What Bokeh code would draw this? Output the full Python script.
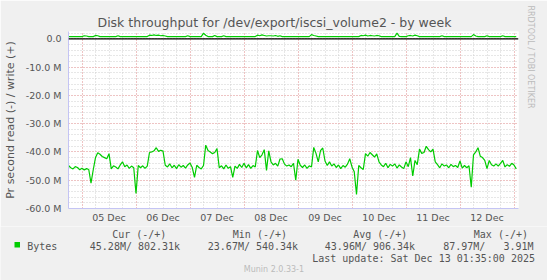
import pandas as pd
from bokeh.plotting import figure
from bokeh.layouts import column
from bokeh.models import Range1d, FixedTicker, Label, Span, ColumnDataSource, Title, BoxAnnotation
from bokeh.embed import file_html
from bokeh.resources import INLINE

# ---------------- data (MB/s, hourly samples from 2025-12-04 18:00) ----------------
read_M = [
    # Dec 4 18-23
    -44.8, -45.6, -46.0, -45.2, -45.5, -46.3,
    # Dec 5
    -45.8, -46.4, -45.9, -46.2, -51.0, -46.3, -42.0, -40.3, -40.8, -41.6, -42.0, -42.4,
    -40.6, -46.0, -44.9, -45.3, -46.0, -44.6, -43.5, -45.2, -44.6, -45.8, -45.0, -45.6,
    # Dec 6
    -54.7, -44.8, -45.6, -44.9, -45.8, -45.0, -40.2, -40.0, -39.6, -38.5, -39.8, -39.4,
    -39.7, -44.7, -45.3, -44.2, -45.6, -44.7, -45.9, -44.5, -45.4, -44.8, -45.7, -44.6,
    # Dec 7
    -43.9, -45.5, -49.0, -44.7, -45.5, -46.0, -44.8, -37.6, -39.5, -40.0, -40.6, -40.2,
    -38.8, -45.6, -44.9, -46.0, -44.6, -45.8, -45.2, -49.0, -45.0, -45.8, -44.4, -45.5,
    # Dec 8
    -44.0, -45.6, -44.5, -45.8, -44.8, -45.3, -39.5, -42.0, -41.0, -39.2, -46.5, -39.6,
    -43.5, -44.6, -44.0, -45.0, -42.5, -42.4, -44.3, -45.0, -44.6, -45.2, -44.0, -50.0,
    # Dec 9
    -42.6, -44.7, -45.5, -44.6, -45.8, -44.9, -45.3, -38.4, -40.5, -43.5, -39.5, -38.6,
    -43.2, -44.8, -43.5, -45.0, -44.2, -45.5, -44.6, -45.9, -44.8, -45.4, -44.3, -42.4,
    # Dec 10
    -45.3, -47.0, -55.0, -44.8, -45.6, -46.2, -40.6, -41.5, -40.2, -41.0, -41.8, -40.7,
    -43.5, -44.6, -45.2, -44.0, -45.6, -44.4, -45.0, -44.2, -45.7, -44.6, -45.3, -45.9,
    # Dec 11
    -43.5, -45.2, -42.0, -48.5, -43.0, -44.5, -39.0, -40.5, -40.2, -38.0, -39.2, -40.0,
    -39.0, -43.5, -44.5, -45.6, -44.2, -45.0, -44.6, -45.6, -44.4, -45.2, -44.8, -45.5,
    # Dec 12
    -43.2, -45.7, -44.8, -45.6, -44.9, -52.5, -41.0, -40.0, -38.5, -41.5, -42.0, -43.0,
    -45.9, -43.0, -44.5, -45.0, -44.2, -45.0, -44.0, -43.0, -45.3, -44.5, -45.1, -44.0,
    # Dec 13 00-01
    -44.6, -46.0,
]

write_M = [
    0.8, 0.8, 0.8, 0.8, 0.8, 0.8,
    0.8, 1.1, 1.0, 0.8, 0.8, 0.8, 1.2, 1.1, 0.8, 0.8, 0.8, 0.8,
    0.8, 0.8, 0.8, 0.8, 1.1, 0.8, 0.8, 0.8, 0.8, 0.8, 0.8, 0.8,
    0.8, 0.8, 0.8, 0.8, 0.8, 0.8, 1.3, 1.2, 1.4, 1.2, 1.3, 1.1,
    1.2, 1.0, 0.8, 0.8, 0.8, 0.8, 0.8, 0.8, 0.8, 0.8, 0.8, 1.1,
    0.8, 0.8, 0.8, 0.8, 0.8, 0.8, 2.0, 1.3, 0.8, 0.8, 0.8, 1.2,
    0.8, 0.8, 0.8, 1.1, 0.8, 0.8, 0.8, 0.8, 0.8, 0.8, 0.8, 0.8,
    0.8, 0.8, 0.8, 0.8, 0.8, 0.8, 1.3, 1.1, 1.4, 1.2, 1.0, 1.1,
    1.1, 1.0, 1.2, 0.9, 1.1, 0.8, 0.8, 0.8, 0.8, 0.8, 0.8, 0.8,
    0.8, 0.8, 0.8, 0.8, 0.8, 0.8, 1.5, 1.2, 1.0, 0.8, 0.8, 0.8,
    0.8, 0.8, 0.8, 0.8, 0.8, 0.8, 0.8, 0.8, 0.8, 0.8, 0.8, 0.8,
    0.8, 0.8, 0.8, 0.8, 1.2, 1.1, 1.3, 1.0, 1.2, 1.1, 1.0, 1.2,
    1.1, 0.8, 0.8, 0.8, 0.8, 0.8, 0.8, 0.8, 2.0, 0.9, 0.8, 0.8,
    0.8, 1.1, 1.2, 1.0, 1.3, 1.1, 0.8, 0.8, 0.8, 0.8, 0.8, 0.8,
    0.8, 0.8, 0.8, 0.8, 1.1, 0.8, 0.8, 0.8, 0.8, 0.8, 0.8, 0.8,
    0.8, 0.8, 0.8, 0.8, 0.8, 0.8, 1.5, 1.0, 0.8, 0.8, 0.8, 0.8,
    1.1, 0.8, 0.8, 0.8, 0.8, 0.8, 0.8, 1.1, 0.8, 0.8, 0.8, 0.8,
    0.8, 0.8,
]

series_start = "2025-12-04 18:00"
view_start = "2025-12-04 18:00"
view_end = "2025-12-13 02:00"

day_labels = ["05 Dec", "06 Dec", "07 Dec", "08 Dec", "09 Dec", "10 Dec", "11 Dec", "12 Dec"]
y_ticks_M = [0, -10, -20, -30, -40, -50, -60]
y_tick_labels = ["0.0", "-10.0 M", "-20.0 M", "-30.0 M", "-40.0 M", "-50.0 M", "-60.0 M"]

legend_headers = ["Cur (-/+)", "Min (-/+)", "Avg (-/+)", "Max (-/+)"]
legend_values = ["45.28M/\u00a0802.31k", "23.67M/\u00a0540.34k", "43.96M/\u00a0906.34k",
                 "87.97M/\u00a0\u00a0\u00a03.91M"]

# ---------------- main chart ----------------
W = 547
H_MAIN = 226
H_LEG = 280 - H_MAIN
FL, FR, FT, FB = 67, 518, 31, 208

GREY = "#555555"
AXIS_C = "#C4C4F4"
GREEN = "#00CC00"
BG = "#F0F0F0"

times = pd.date_range(series_start, periods=len(read_M), freq="h")
src = ColumnDataSource(dict(t=times,
                            read=[v * 1e6 for v in read_M],
                            write=[v * 1e6 for v in write_M]))

p = figure(width=W, height=H_MAIN, output_backend="svg", toolbar_location=None,
           x_axis_type="datetime",
           x_range=Range1d(pd.Timestamp(view_start), pd.Timestamp(view_end)),
           y_range=Range1d(-60e6, 2.6e6),
           min_border_left=FL, min_border_right=W - FR,
           min_border_top=FT, min_border_bottom=H_MAIN - FB)
p.border_fill_color = BG
p.background_fill_color = "white"
p.outline_line_color = None

p.title.text = "Disk throughput for /dev/export/iscsi_volume2 - by week"
p.title.align = "left"
p.title.offset = 29
p.title.standoff = 4
p.title.vertical_align = "bottom"
p.title.text_font = "DejaVu Sans"
p.title.text_font_size = "12.5px"
p.title.text_font_style = "normal"
p.title.text_color = GREY

p.add_layout(Title(text="RRDTOOL / TOBI OETIKER", align="left", offset=-26, standoff=14,
                   text_font="DejaVu Sans", text_font_size="8px", text_font_style="normal",
                   text_color="#BBBBBB"), "right")

# y axis
yt = [v * 1e6 for v in y_ticks_M]
p.yaxis.ticker = FixedTicker(ticks=yt)
p.yaxis.major_label_overrides = {float(t): l for t, l in zip(yt, y_tick_labels)}
p.yaxis.major_label_text_font = "DejaVu Sans"
p.yaxis.major_label_text_font_size = "9.5px"
p.yaxis.major_label_text_color = GREY
p.yaxis.major_tick_out = 0
p.yaxis.major_tick_in = 0
p.yaxis.minor_tick_out = 0
p.yaxis.minor_tick_in = 0
p.yaxis.major_label_standoff = 7
p.yaxis.axis_line_color = AXIS_C
p.yaxis.axis_label = "Pr second read (-) / write (+)"
p.yaxis.axis_label_text_font = "DejaVu Sans"
p.yaxis.axis_label_text_font_size = "11px"
p.yaxis.axis_label_text_font_style = "normal"
p.yaxis.axis_label_text_color = GREY
p.yaxis.axis_label_standoff = 6

# x axis (labels at noon)
noon0 = pd.Timestamp("2025-12-05 12:00")
xt = [(noon0 + pd.Timedelta(days=i)).value / 1e6 for i in range(len(day_labels))]
p.xaxis.ticker = FixedTicker(ticks=xt)
p.xaxis.major_label_overrides = {float(t): l for t, l in zip(xt, day_labels)}
p.xaxis.major_label_text_font = "DejaVu Sans"
p.xaxis.major_label_text_font_size = "9.5px"
p.xaxis.major_label_text_color = GREY
p.xaxis.major_tick_out = 0
p.xaxis.major_tick_in = 0
p.xaxis.minor_tick_out = 0
p.xaxis.minor_tick_in = 0
p.xaxis.major_label_standoff = 3
p.xaxis.axis_line_color = AXIS_C

# grids
ymin = [v * 1e6 for v in range(-60, 3, 2)]
p.ygrid.ticker = FixedTicker(ticks=yt, minor_ticks=ymin)
mid0 = pd.Timestamp("2025-12-05 00:00")
xmaj = [(mid0 + pd.Timedelta(days=i)).value / 1e6 for i in range(9)]
xmin = [(pd.Timestamp(view_start) + pd.Timedelta(hours=6 * i)).value / 1e6 for i in range(34)]
p.xgrid.ticker = FixedTicker(ticks=xmaj, minor_ticks=xmin)
for g in (p.xgrid, p.ygrid):
    g.grid_line_color = "#F4A0A0"
    g.grid_line_dash = "1 2"
    g.grid_line_width = 1
    g.minor_grid_line_color = "#CFCFCF"
    g.minor_grid_line_dash = "1 2"
    g.minor_grid_line_width = 1

p.add_layout(Span(location=0, dimension="width", line_color="black", line_width=1.3))

p.line("t", "read", source=src, line_color=GREEN, line_width=1.2)
p.line("t", "write", source=src, line_color=GREEN, line_width=1.2)

# ---------------- legend strip (pixel-coordinate frame) ----------------
lg = figure(width=W, height=H_LEG, output_backend="svg", toolbar_location=None,
            x_range=Range1d(0, W), y_range=Range1d(H_LEG, 0),
            x_axis_location=None, y_axis_location=None,
            min_border=0, min_border_left=0, min_border_right=0,
            min_border_top=0, min_border_bottom=0)
lg.border_fill_color = BG
lg.background_fill_color = BG
lg.outline_line_color = None
lg.grid.visible = False

aligned = True
for fig in (p, lg):
    if "frame_align" in fig.properties():
        fig.frame_align = False
        aligned = False

if aligned:
    # frames get aligned with the main chart: map data x back onto canvas pixels
    lg.x_range = Range1d(-FL * W / (FR - FL), W + (W - FR) * W / (FR - FL))


def add_text(cx, cy, text, size, font="DejaVu Sans", color=GREY, align="left"):
    lg.add_layout(Label(x=cx, y=cy - H_MAIN, text=text,
                        text_font=font, text_font_size=size, text_color=color,
                        text_align=align, text_baseline="middle"))


MONO = "DejaVu Sans Mono"
header_x = [111.7, 232.3, 352.7, 473.3]
value_x = [89.3, 207.3, 324.3, 442.7]
for hx, h in zip(header_x, legend_headers):
    add_text(hx, 233.5, h, "10px", font=MONO)
for vx, v in zip(value_x, legend_values):
    add_text(vx, 245.5, v, "10px", font=MONO)
add_text(26.7, 245.5, "Bytes", "10px", font=MONO)
add_text(311.7, 257.5, "Last\u00a0update:\u00a0Sat\u00a0Dec\u00a013\u00a001:35:00\u00a02025", "10px", font=MONO)
add_text(243.3, 269, "Munin 2.0.33-1", "8px", color="#BBBBBB")
lg.add_layout(BoxAnnotation(left=14, right=19.5, top=241.5 - H_MAIN, bottom=247 - H_MAIN,
                            fill_color=GREEN, fill_alpha=1.0, line_color=None))

layout = column(p, lg, spacing=0)
open("out.html", "w").write(file_html(layout, INLINE))
